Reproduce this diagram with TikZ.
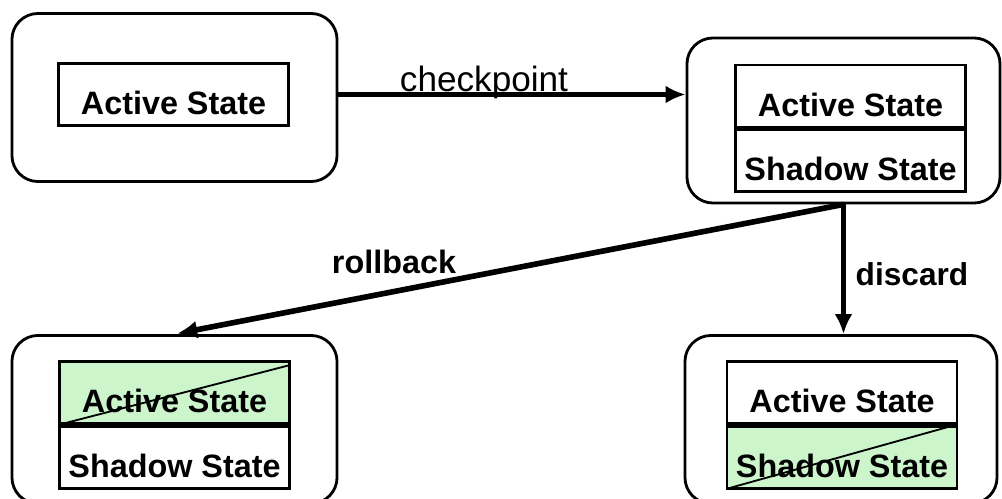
\documentclass[tikz,border=0pt]{standalone}
\usepackage{fontspec}
\setmainfont{Liberation Sans}
\usetikzlibrary{positioning,arrows.meta}
\definecolor{discardgreen}{RGB}{204,245,204}

\begin{document}
\begin{tikzpicture}[x=0.025cm, y=-0.025cm,
    frame/.style={rectangle, rounded corners=0.65cm, draw=black, line width=2pt, minimum height=4.2cm},
    slot/.style={rectangle, draw=black, line width=2pt, minimum width=5.75cm, minimum height=1.55cm,
                 inner sep=0pt, text height=1cm, text depth=0pt, font=\fontsize{23}{27}\selectfont\bfseries},
    gone/.style={slot, fill=discardgreen},
    strike/.style={draw=black, line width=1.3pt},
    flow/.style={draw=black, line width=4pt, -{Latex[length=0.5cm, width=0.45cm]}},
    flowlbl/.style={anchor=base, inner sep=0pt, font=\fontsize{23}{27}\selectfont\bfseries}]
      \clip (0,0) rectangle (1002,499);
    %  \draw[help lines] (0,0) grid (1002,499);

      % outer frames
      \node [frame, minimum width=8.125cm] (frame_ckpt) at (174.5, 97.5) {};
      \node [frame, minimum width=7.825cm, minimum height=4.125cm] (frame_saved) at (843.5, 120.5) {};
      \node [frame, minimum width=8.125cm] (frame_rollback) at (174.5, 419.5) {};
      \node [frame, minimum width=7.8cm] (frame_discard) at (841, 419.5) {};

      % state slots
      \node [slot] (active_ckpt) at (173.5, 94.5) {Active State};

      \node [slot] (active_saved) at (850.5, 96) {Active State};
      \node [slot, below=0pt of active_saved] (shadow_saved) {Shadow State};

      \node [gone] (active_rollback) at (174.5, 392.5) {Active State};
      \node [slot, below=0pt of active_rollback] (shadow_rollback) {Shadow State};

      \node [slot] (active_discard) at (842, 392.5) {Active State};
      \node [gone, below=0pt of active_discard] (shadow_discard) {Shadow State};

      % crossed out
      \draw[strike] ([shift={(4,-1)}]active_rollback.south west) -- ([shift={(-1,5)}]active_rollback.north east);
      \draw[strike] ([shift={(5,-2)}]shadow_discard.south west) -- ([shift={(-3,0)}]shadow_discard.north east);

      % transitions
      \draw[flow] (active_ckpt -| frame_ckpt.east) -- (active_ckpt -| frame_saved.west);
      \draw[flow, shorten >=2pt] (frame_saved.south) -- (frame_rollback.north);
      \draw[flow] (frame_saved.south) -- (frame_saved.south |- frame_discard.north);

      \node [flowlbl, font=\fontsize{25}{29}\selectfont] (lbl_ckpt) at (484, 92) {checkpoint};
      \node [flowlbl] (lbl_rollback) at (394, 273) {rollback};
      \node [flowlbl, font=\fontsize{22.5}{27}\selectfont\bfseries] (lbl_discard) at (912, 285) {discard};

    \end{tikzpicture}
\end{document}
